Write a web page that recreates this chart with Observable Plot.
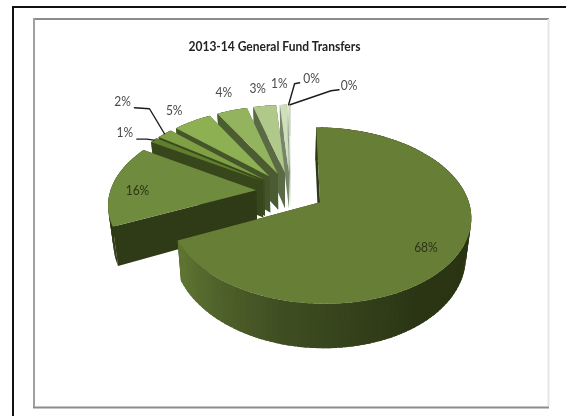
<!DOCTYPE html>
<html><head><meta charset="utf-8">
<script src="https://cdn.jsdelivr.net/npm/d3@7"></script>
<script src="https://cdn.jsdelivr.net/npm/@observablehq/plot@0.6"></script>
<style>html,body{margin:0;background:#fff}svg{display:block;filter:blur(.4px)}</style>
</head><body><div id="chart"></div>
<script>
const chartTitle = "2013-14 General Fund Transfers";
const shares = [68.2, 15.6, 1, 2, 5, 4, 3, 0.9, 0.2, 0.1];
const shareLabels = ["68%","16%","1%","2%","5%","4%","3%","1%","0%","0%"];

// styling
const topColors  = ["#677e37","#6f8b3d","#5f7f2e","#7fa044","#8cb052","#93b35f","#b0c98a","#cfdfbb","#dce7cd","#e8efdd"];
const wallColors = ["#2e3816","#2f3a17","#38461c","#3c4b20","#44552a","#4b5b32","#5a6a44","#76856a","#8f9c85","#a8b39f"];
const sideStops  = ["#2a3312","#2b3514","#3f4e22","#5f7433"];
const labelNudge = [[-33,-5],[25,6],[-29,-7],[-42,-32],[-18,-11],[-8,-18],[-7,-17],[-4,-21],[23,-26],[59,-19]];
const leaders = [[2,12,6,22,6],[3,12,6,27,7],[8,-12,4,-17,5],[9,-10,4,-18,5]];

// pie geometry, in page units
const cx = 290, cy = 191, rx = 146, ry = 83, persp = 0.148, explode = 0.236, depth = 37, converge = 0.97;
const rad = d => d * Math.PI / 180;
const total = d3.sum(shares);
const cum = d3.cumsum(shares);
const slices = shares.map((v, i) => {
  const a0 = (i ? cum[i-1] : 0) / total * 360, a1 = cum[i] / total * 360;
  return {i, a0, a1, mid: (a0 + a1) / 2};
});
function proj(sl, r, deg, low) {
  const X = explode * Math.sin(rad(sl.mid)) + r * Math.sin(rad(deg));
  const Z = explode * Math.cos(rad(sl.mid)) + r * Math.cos(rad(deg));
  const s = 1 / (1 + persp * Z);
  const x = rx * X * s, y = -ry * Z * s;
  return low ? [cx + x * converge, cy + y + depth * s] : [cx + x, cy + y];
}
const faces = [];
let faceId = 0;
function addFace(pts, color) {
  pts.forEach(p => faces.push({id: faceId, x: p[0], y: p[1], color}));
  faceId++;
}
const sideRamp = d3.piecewise(d3.interpolateRgb, sideStops);
[...slices].reverse().forEach(sl => {
  const wall = wallColors[sl.i];
  addFace([proj(sl,0,sl.a1), proj(sl,1,sl.a1), proj(sl,1,sl.a1,true), proj(sl,0,sl.a1,true)], wall);
  const step = 2, n = Math.max(1, Math.ceil((sl.a1 - sl.a0) / step));
  d3.range(n).forEach(k => {
    // each strip reaches under the next one, so no seam shows between them
    const t0 = sl.a0 + (sl.a1 - sl.a0) * k / n;
    const t1 = Math.min(sl.a1, sl.a0 + (sl.a1 - sl.a0) * (k + 1) / n + 1.5);
    const col = sl.i === 0 ? sideRamp(Math.max(0, Math.min(1, (t0 - 100) / 140))) : wall;
    addFace([proj(sl,1,t0), proj(sl,1,t1), proj(sl,1,t1,true), proj(sl,1,t0,true)], col);
  });
  addFace([proj(sl,0,sl.a0), proj(sl,1,sl.a0), proj(sl,1,sl.a0,true), proj(sl,0,sl.a0,true)], wall);
  const m = Math.max(2, Math.ceil((sl.a1 - sl.a0) / 2));
  addFace([proj(sl,0,sl.a0), ...d3.range(m + 1).map(k => proj(sl,1,sl.a0 + (sl.a1 - sl.a0) * k / m))], topColors[sl.i]);
});
const labels = slices.map(sl => {
  const p = proj(sl, 1, sl.mid);
  return {x: p[0] + labelNudge[sl.i][0], y: p[1] + labelNudge[sl.i][1], rimX: p[0], rimY: p[1], text: shareLabels[sl.i], inside: sl.i < 2};
});
const leaderRows = leaders.flatMap(([i, ex, ey, bx, by], id) => {
  const l = labels[i];
  return [{id, x: l.x + ex, y: l.y + ey}, {id, x: l.x + bx, y: l.y + by}, {id, x: l.rimX, y: l.rimY}];
});

const font = "Lato, 'Noto Sans', sans-serif";
const chart = Plot.plot({
  width: 566, height: 416,
  margin: 0,
  style: {background: "#fff"},
  x: {domain: [0, 566], range: [0, 566], axis: null},
  y: {domain: [0, 416], range: [0, 416], axis: null},
  color: {type: "identity"},
  marks: [
    // outer black frame and inner chart-area frame
    Plot.ruleY([6.5], {x1: 12, x2: 566, stroke: "#111", strokeWidth: 2}),
    Plot.ruleX([12.5], {y1: 6, y2: 416, stroke: "#111", strokeWidth: 2}),
    Plot.ruleY([18.5], {x1: 33, x2: 549, stroke: "#8c8c8c", strokeWidth: 2}),
    Plot.ruleX([33.5], {y1: 18, y2: 407, stroke: "#a0a0a0", strokeWidth: 2}),
    Plot.ruleY([407], {x1: 33, x2: 549, stroke: "#8c8c8c", strokeWidth: 2}),
    Plot.ruleX([548], {y1: 19, y2: 406, stroke: "#e6e6e6", strokeWidth: 2}),
    Plot.line(faces, {x: "x", y: "y", z: "id", fill: "color", stroke: "none", curve: "linear-closed"}),
    Plot.line(leaderRows, {x: "x", y: "y", z: "id", stroke: "#1c1c1c", strokeWidth: 1.4}),
    Plot.text(labels, {x: "x", y: "y", text: "text", fill: d => d.inside ? "#2c3318" : "#4a4a4a", fontFamily: font, fontSize: 13.5}),
    Plot.text([chartTitle], {x: [274], y: [46], fontFamily: font, fontSize: 13.5, fontWeight: 700, fill: "#222"})
  ]
});
document.getElementById("chart").append(chart);
// Calibri-like proportions: the same glyphs, slightly condensed
d3.select(chart).selectAll("text").each(function () {
  const len = this.getComputedTextLength();
  this.setAttribute("textLength", (len * 0.89).toFixed(1));
  this.setAttribute("lengthAdjust", "spacingAndGlyphs");
});
</script>
</body></html>
